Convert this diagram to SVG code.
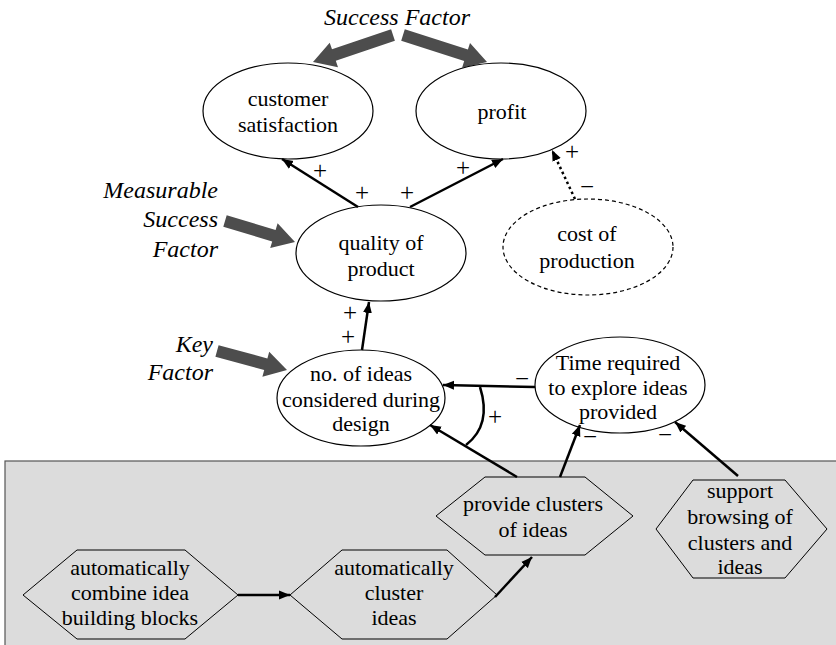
<svg xmlns="http://www.w3.org/2000/svg" width="836" height="645" viewBox="0 0 836 645" font-family="'Liberation Serif', 'DejaVu Serif', serif">
<defs>
<marker id="ah" markerUnits="userSpaceOnUse" markerWidth="12" markerHeight="10" refX="11" refY="5" orient="auto">
<path d="M0,0.5 L11,5 L0,9.5 Z" fill="#000"/>
</marker>
<style>
text{font-family:'Liberation Serif', 'DejaVu Serif', serif;font-size:22px;fill:#000;text-anchor:middle}
.it{font-style:italic;text-anchor:end;font-size:24px}
.itc{font-style:italic;font-size:24px}
.node{fill:#fff;stroke:#000;stroke-width:1.2}
.dash{stroke-dasharray:4,3}
.hex{fill:#dcdcdc;stroke:#000;stroke-width:1}
.con{fill:none;stroke:#000;stroke-width:2.5}
.dot{stroke-dasharray:2.5,3}
.big{fill:#4d4d4d}
.sg{font-size:25px}
</style>
</defs>
<rect id="system-box" x="5" y="461" width="840" height="200" fill="#dcdcdc" stroke="#555" stroke-width="1.2"/>
<g id="labels">
<text class="itc" x="397" y="25">Success Factor</text>
<text class="it" x="218" y="198">Measurable</text>
<text class="it" x="218" y="227">Success</text>
<text class="it" x="218" y="257">Factor</text>
<text class="it" x="213" y="352">Key</text>
<text class="it" x="213" y="380">Factor</text>
<polygon class="big" points="391.1,29.3 332.0,49.3 329.7,42.7 313,62 338.0,67.3 335.8,60.7 394.9,40.7"/>
<polygon class="big" points="401.2,40.7 464.2,61.0 462.1,67.7 487,62 470.0,42.9 467.9,49.6 404.8,29.3"/>
<polygon class="big" points="223.3,226.8 272.2,241.4 270.2,248.1 295,242 277.6,223.2 275.6,229.9 226.7,215.2"/>
<polygon class="big" points="215.4,356.8 264.2,370.0 262.4,376.8 287,370 269.2,351.7 267.4,358.4 218.6,345.2"/>
</g>
<g id="n-customer">
<ellipse class="node" cx="288" cy="111" rx="85" ry="48"/>
<text x="288" y="106">customer</text>
<text x="288" y="132">satisfaction</text>
</g>
<g id="n-profit">
<ellipse class="node" cx="501" cy="111" rx="85" ry="48"/>
<text x="502" y="119">profit</text>
</g>
<g id="n-quality">
<ellipse class="node" cx="381" cy="253" rx="85" ry="48"/>
<text x="381" y="250">quality of</text>
<text x="381" y="276">product</text>
</g>
<g id="n-cost">
<ellipse class="node dash" cx="588" cy="247" rx="85" ry="48"/>
<text x="587" y="241">cost of</text>
<text x="587" y="268">production</text>
</g>
<g id="n-ideas">
<ellipse class="node" cx="361" cy="398" rx="84" ry="48"/>
<text x="361" y="381">no. of ideas</text>
<text x="361" y="407">considered during</text>
<text x="361" y="431">design</text>
</g>
<g id="n-time">
<ellipse class="node" cx="620" cy="385" rx="85" ry="48"/>
<text x="618" y="370">Time required</text>
<text x="618" y="395">to explore ideas</text>
<text x="618" y="419">provided</text>
</g>
<g id="n-combine">
<polygon class="hex" points="23,595 77,550 185,550 238,595 185,639 77,639"/>
<text x="130" y="575">automatically</text>
<text x="130" y="600">combine idea</text>
<text x="130" y="625">building blocks</text>
</g>
<g id="n-cluster">
<polygon class="hex" points="290,595 342,550 447,550 497,595 447,639 342,639"/>
<text x="394" y="575">automatically</text>
<text x="394" y="600">cluster</text>
<text x="394" y="625">ideas</text>
</g>
<g id="n-provide">
<polygon class="hex" points="436,516 485,477 585,477 633,516 585,555 485,555"/>
<text x="533" y="511">provide clusters</text>
<text x="533" y="537">of ideas</text>
</g>
<g id="n-support">
<polygon class="hex" points="656,529 693,480 785,480 827,529 785,578 693,578"/>
<text x="740" y="498">support</text>
<text x="740" y="524">browsing of</text>
<text x="740" y="550">clusters and</text>
<text x="740" y="574">ideas</text>
</g>
<g id="connectors">
<line class="con" x1="358" y1="207" x2="282" y2="159" marker-end="url(#ah)"/>
<line class="con" x1="410" y1="207" x2="503" y2="159" marker-end="url(#ah)"/>
<line class="con dot" x1="575" y1="199" x2="552" y2="150" marker-end="url(#ah)"/>
<line class="con" x1="362" y1="350" x2="369" y2="302" marker-end="url(#ah)"/>
<line class="con" x1="535" y1="387" x2="443" y2="385" marker-end="url(#ah)"/>
<line class="con" x1="517" y1="477" x2="430" y2="425" marker-end="url(#ah)"/>
<line class="con" x1="560" y1="477" x2="580" y2="425" marker-end="url(#ah)"/>
<line class="con" x1="738" y1="476" x2="675" y2="422" marker-end="url(#ah)"/>
<line class="con" x1="238" y1="595" x2="290" y2="595" marker-end="url(#ah)"/>
<line class="con" x1="495" y1="597" x2="532" y2="557" marker-end="url(#ah)"/>
<path class="con" d="M480,387 Q492,425 466,445"/>
</g>
<g id="signs">
<text class="sg" x="320" y="179">+</text>
<text class="sg" x="362" y="201">+</text>
<text class="sg" x="407" y="201">+</text>
<text class="sg" x="463" y="176">+</text>
<text class="sg" x="572" y="160">+</text>
<text class="sg" x="587" y="195">−</text>
<text class="sg" x="350" y="321">+</text>
<text class="sg" x="348" y="345">+</text>
<text class="sg" x="522" y="387">−</text>
<text class="sg" x="495" y="425">+</text>
<text class="sg" x="590" y="445">−</text>
<text class="sg" x="665" y="443">−</text>
</g>
</svg>
